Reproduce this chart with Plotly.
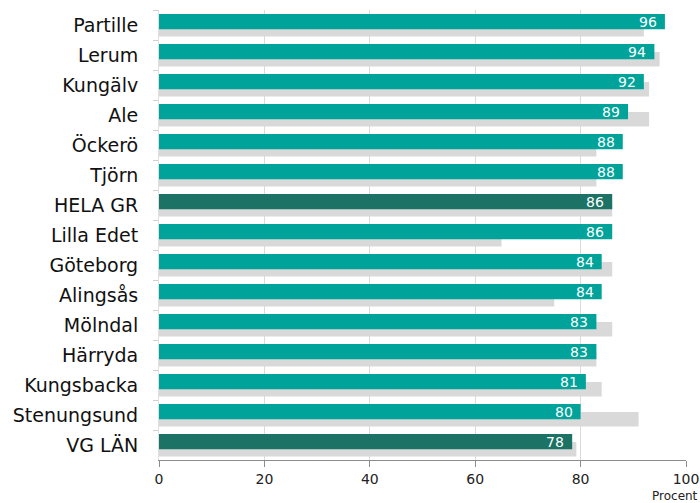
import plotly.graph_objects as go

categories = ["Partille", "Lerum", "Kungälv", "Ale", "Öckerö", "Tjörn", "HELA GR",
              "Lilla Edet", "Göteborg", "Alingsås", "Mölndal", "Härryda",
              "Kungsbacka", "Stenungsund", "VG LÄN"]
current = [96, 94, 92, 89, 88, 88, 86, 86, 84, 84, 83, 83, 81, 80, 78.4]
previous = [92, 95, 93, 93, 83, 83, 86, 65, 86, 75, 86, 83, 84, 91, 79.2]
totals = {"HELA GR", "VG LÄN"}
x_ticks = [0, 20, 40, 60, 80, 100]

TEAL = "#00A39A"
DARK = "#1B7265"
GREY = "#D9D9D9"
FONT = "DejaVu Sans"

bar_colors = [DARK if c in totals else TEAL for c in categories]
labels = [f"{v:.0f}" for v in current]

fig = go.Figure()
fig.add_trace(go.Bar(
    y=categories, x=previous, orientation="h",
    marker=dict(color=GREY, line=dict(width=0)),
    offset=-0.1, width=0.48, hoverinfo="skip", showlegend=False,
))
fig.add_trace(go.Bar(
    y=categories, x=current, orientation="h",
    marker=dict(color=bar_colors, line=dict(width=0)),
    offset=-0.367, width=0.51, showlegend=False,
))

annotations = []
for cat, val, lab in zip(categories, current, labels):
    annotations.append(dict(
        x=val, y=cat, xref="x", yref="y", text=lab, showarrow=False,
        xanchor="right", yanchor="middle", xshift=-6, yshift=3.5,
        font=dict(color="white", size=14, family=FONT),
    ))
annotations.append(dict(
    text="Procent", x=1, xref="paper", xanchor="right",
    y=0, yref="paper", yanchor="middle", yshift=-36, xshift=14,
    showarrow=False, font=dict(size=12, color="#222", family=FONT),
))

fig.update_layout(
    width=700, height=503,
    margin=dict(l=159, r=14, t=10, b=43, autoexpand=False),
    barmode="overlay",
    plot_bgcolor="white", paper_bgcolor="white",
    font=dict(family=FONT, color="#222"),
    xaxis=dict(
        range=[0, 100], tickvals=x_ticks, ticktext=[str(t) for t in x_ticks],
        showgrid=True, gridcolor="#DADADA", gridwidth=1,
        showline=True, linecolor="#8C8C8C", linewidth=1,
        ticks="outside", ticklen=6, tickcolor="#8C8C8C",
        tickfont=dict(size=14, color="#222"),
        zeroline=False, automargin=False,
    ),
    yaxis=dict(
        type="category", categoryorder="array", categoryarray=categories,
        autorange="reversed",
        tickson="boundaries", ticks="outside", ticklen=5, tickcolor="#D0D0D0",
        showline=True, linecolor="#E0E0E0", linewidth=1,
        showgrid=False, automargin=False,
        tickfont=dict(size=19, color="#111"),
        ticklabelstandoff=16,
    ),
    annotations=annotations,
)

fig.write_html("out.html")
